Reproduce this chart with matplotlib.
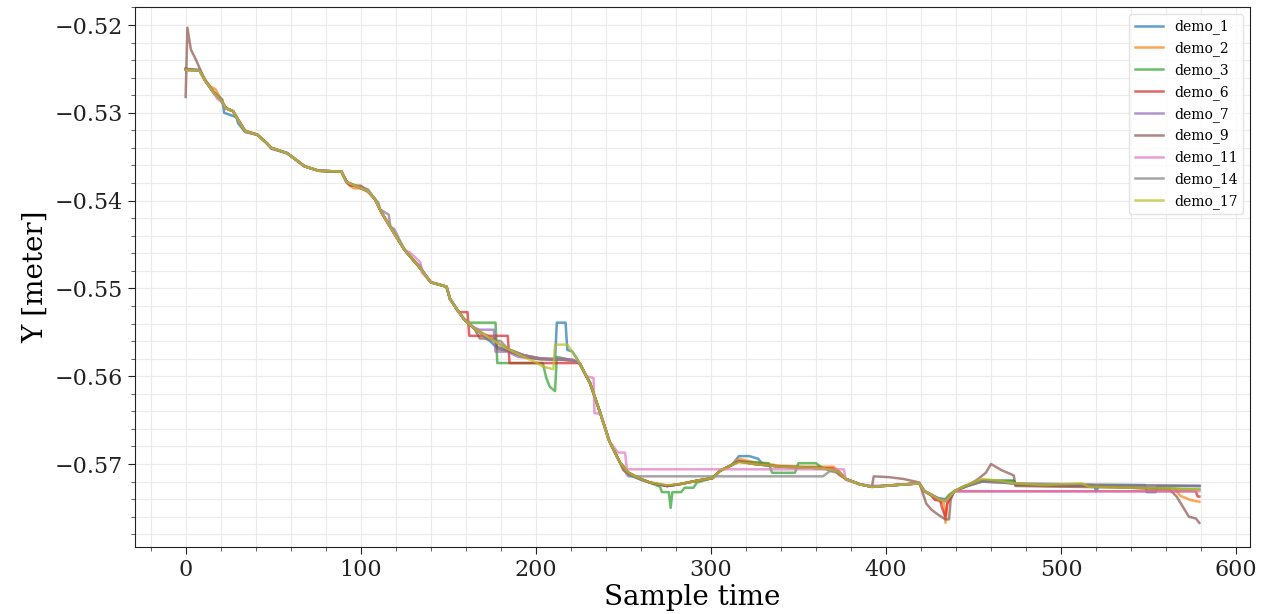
import matplotlib
matplotlib.use("Agg")
import matplotlib.pyplot as plt
from matplotlib.ticker import MultipleLocator

plt.rcParams['font.family'] = ['DejaVu Serif']

labels = ["demo_1", "demo_2", "demo_3", "demo_6", "demo_7", "demo_9", "demo_11", "demo_14", "demo_17"]

demo_1 = [(0,-0.5250),(8,-0.5251),(11,-0.5262),(16,-0.5276),(21,-0.5285),(22,-0.5300),(29,-0.5305),(30,-0.5312),(34,-0.5322),(41,-0.5325),(46,-0.5334),(49,-0.5341),(58,-0.5346),(62,-0.5352),(68,-0.5361),(76,-0.5366),(89,-0.5367),(92,-0.5379),(98,-0.5384),(104,-0.5389),(108,-0.5398),(112,-0.5414),(119,-0.5437),(125,-0.5456),(134,-0.5477),(140,-0.5493),(149,-0.5498),(151,-0.5512),(155,-0.5524),(159,-0.5535),(165,-0.5546),(170,-0.5553),(177,-0.5566),(184,-0.5570),(193,-0.5576),(203,-0.5580),(211,-0.5581),(212,-0.5539),(217,-0.5539),(218,-0.5570),(221,-0.5572),(225,-0.5585),(231,-0.5608),(237,-0.5643),(242,-0.5674),(248,-0.5698),(253,-0.5712),(260,-0.5718),(265,-0.5721),(275,-0.5725),(282,-0.5723),(292,-0.5719),(301,-0.5716),(305,-0.5708),(312,-0.5701),(316,-0.5691),(322,-0.5691),(327,-0.5694),(330,-0.5701),(340,-0.5703),(355,-0.5704),(365,-0.5705),(373,-0.5709),(377,-0.5717),(385,-0.5723),(392,-0.5726),(405,-0.5724),(419,-0.5722),(422,-0.5731),(426,-0.5735),(430,-0.5739),(434,-0.5740),(439,-0.5731),(445,-0.5725),(455,-0.5719),(473,-0.5719),(474,-0.5724),(519,-0.5724),(520,-0.5731),(522,-0.5724),(548,-0.5724),(549,-0.5732),(554,-0.5732),(555,-0.5725),(579,-0.5725)]

demo_2 = [(0,-0.5250),(8,-0.5252),(11,-0.5262),(14,-0.5270),(17,-0.5273),(20,-0.5284),(23,-0.5294),(27,-0.5298),(30,-0.5308),(34,-0.5320),(41,-0.5325),(46,-0.5334),(49,-0.5340),(58,-0.5346),(62,-0.5352),(68,-0.5361),(76,-0.5366),(89,-0.5367),(92,-0.5380),(96,-0.5386),(100,-0.5386),(104,-0.5390),(108,-0.5398),(112,-0.5414),(119,-0.5437),(125,-0.5456),(134,-0.5477),(140,-0.5493),(149,-0.5498),(151,-0.5512),(155,-0.5524),(159,-0.5535),(165,-0.5546),(172,-0.5553),(176,-0.5560),(184,-0.5569),(193,-0.5576),(203,-0.5580),(214,-0.5581),(221,-0.5582),(225,-0.5585),(231,-0.5608),(237,-0.5643),(242,-0.5674),(248,-0.5698),(253,-0.5710),(260,-0.5717),(265,-0.5721),(275,-0.5725),(282,-0.5723),(292,-0.5719),(301,-0.5716),(305,-0.5708),(312,-0.5701),(316,-0.5694),(325,-0.5698),(340,-0.5702),(355,-0.5703),(370,-0.5703),(373,-0.5708),(377,-0.5717),(385,-0.5723),(392,-0.5726),(405,-0.5724),(419,-0.5722),(422,-0.5731),(426,-0.5736),(430,-0.5742),(433,-0.5745),(434,-0.5767),(435,-0.5745),(439,-0.5731),(445,-0.5726),(455,-0.5718),(465,-0.5720),(474,-0.5723),(490,-0.5725),(510,-0.5725),(540,-0.5727),(565,-0.5728),(568,-0.5736),(574,-0.5741),(579,-0.5743)]

demo_3 = [(0,-0.5251),(8,-0.5252),(11,-0.5263),(16,-0.5277),(20,-0.5285),(23,-0.5295),(27,-0.5298),(30,-0.5308),(34,-0.5321),(41,-0.5325),(46,-0.5334),(49,-0.5340),(58,-0.5346),(62,-0.5352),(68,-0.5361),(76,-0.5366),(89,-0.5367),(92,-0.5379),(98,-0.5384),(104,-0.5389),(108,-0.5398),(112,-0.5414),(119,-0.5437),(125,-0.5456),(134,-0.5477),(140,-0.5493),(149,-0.5498),(151,-0.5512),(155,-0.5524),(159,-0.5535),(161,-0.5539),(177,-0.5539),(178,-0.5585),(204,-0.5585),(206,-0.5602),(208,-0.5612),(211,-0.5617),(212,-0.5578),(221,-0.5582),(225,-0.5585),(231,-0.5608),(237,-0.5643),(242,-0.5674),(248,-0.5698),(253,-0.5710),(260,-0.5717),(265,-0.5721),(271,-0.5726),(272,-0.5732),(276,-0.5732),(277,-0.5750),(278,-0.5732),(283,-0.5732),(285,-0.5727),(290,-0.5727),(292,-0.5721),(301,-0.5716),(305,-0.5708),(312,-0.5701),(316,-0.5697),(324,-0.5698),(333,-0.5699),(335,-0.5710),(348,-0.5710),(350,-0.5699),(360,-0.5699),(364,-0.5705),(373,-0.5709),(377,-0.5717),(385,-0.5723),(392,-0.5726),(405,-0.5724),(419,-0.5722),(422,-0.5731),(426,-0.5735),(430,-0.5740),(434,-0.5741),(436,-0.5735),(439,-0.5731),(445,-0.5725),(455,-0.5719),(473,-0.5719),(474,-0.5723),(490,-0.5724),(510,-0.5724),(540,-0.5727),(560,-0.5728),(579,-0.5729)]

demo_6 = [(0,-0.5250),(8,-0.5252),(11,-0.5263),(16,-0.5277),(20,-0.5285),(23,-0.5295),(27,-0.5298),(30,-0.5308),(34,-0.5321),(41,-0.5325),(46,-0.5334),(49,-0.5340),(58,-0.5346),(62,-0.5352),(68,-0.5361),(76,-0.5366),(89,-0.5367),(92,-0.5379),(94,-0.5383),(100,-0.5383),(104,-0.5389),(108,-0.5398),(112,-0.5414),(119,-0.5437),(125,-0.5456),(134,-0.5477),(140,-0.5493),(149,-0.5498),(151,-0.5512),(155,-0.5524),(156,-0.5527),(161,-0.5527),(162,-0.5554),(184,-0.5554),(185,-0.5585),(224,-0.5585),(225,-0.5586),(231,-0.5608),(237,-0.5643),(242,-0.5674),(248,-0.5698),(250,-0.5707),(253,-0.5711),(260,-0.5717),(265,-0.5721),(275,-0.5725),(282,-0.5723),(292,-0.5719),(301,-0.5716),(305,-0.5708),(312,-0.5701),(316,-0.5697),(325,-0.5700),(340,-0.5703),(355,-0.5704),(370,-0.5705),(373,-0.5712),(377,-0.5717),(385,-0.5723),(392,-0.5726),(405,-0.5724),(419,-0.5722),(422,-0.5731),(426,-0.5736),(428,-0.5741),(431,-0.5741),(432,-0.5750),(434,-0.5760),(435,-0.5745),(439,-0.5731),(577,-0.5731),(578,-0.5737),(579,-0.5737)]

demo_7 = [(0,-0.5251),(8,-0.5252),(11,-0.5263),(16,-0.5277),(20,-0.5285),(23,-0.5295),(27,-0.5298),(30,-0.5308),(34,-0.5321),(41,-0.5325),(46,-0.5334),(49,-0.5340),(58,-0.5346),(62,-0.5352),(68,-0.5361),(76,-0.5366),(89,-0.5367),(92,-0.5379),(98,-0.5384),(104,-0.5389),(108,-0.5398),(112,-0.5414),(119,-0.5437),(125,-0.5456),(131,-0.5470),(134,-0.5474),(136,-0.5482),(140,-0.5493),(149,-0.5498),(151,-0.5512),(155,-0.5524),(159,-0.5535),(165,-0.5545),(168,-0.5547),(176,-0.5547),(177,-0.5572),(184,-0.5572),(190,-0.5578),(203,-0.5580),(214,-0.5580),(221,-0.5581),(225,-0.5585),(231,-0.5608),(237,-0.5643),(242,-0.5674),(248,-0.5698),(253,-0.5710),(260,-0.5717),(265,-0.5721),(275,-0.5725),(282,-0.5723),(292,-0.5719),(301,-0.5716),(305,-0.5708),(312,-0.5701),(316,-0.5697),(325,-0.5700),(340,-0.5703),(355,-0.5704),(365,-0.5705),(373,-0.5709),(377,-0.5717),(385,-0.5723),(392,-0.5725),(405,-0.5724),(419,-0.5722),(422,-0.5731),(426,-0.5735),(430,-0.5739),(434,-0.5742),(439,-0.5731),(445,-0.5726),(455,-0.5720),(474,-0.5722),(490,-0.5724),(579,-0.5725)]

demo_9 = [(0,-0.5282),(1,-0.5203),(3,-0.5228),(6,-0.5240),(9,-0.5254),(11,-0.5263),(16,-0.5277),(20,-0.5285),(23,-0.5295),(27,-0.5298),(30,-0.5308),(34,-0.5321),(41,-0.5325),(46,-0.5334),(49,-0.5340),(58,-0.5346),(62,-0.5352),(68,-0.5361),(76,-0.5366),(89,-0.5367),(92,-0.5379),(98,-0.5384),(104,-0.5389),(108,-0.5398),(112,-0.5414),(119,-0.5437),(125,-0.5456),(134,-0.5477),(140,-0.5493),(149,-0.5498),(151,-0.5512),(155,-0.5524),(159,-0.5535),(165,-0.5546),(168,-0.5557),(177,-0.5557),(178,-0.5569),(184,-0.5571),(193,-0.5578),(203,-0.5581),(214,-0.5581),(221,-0.5582),(225,-0.5585),(231,-0.5608),(237,-0.5643),(242,-0.5674),(248,-0.5698),(253,-0.5710),(260,-0.5717),(265,-0.5721),(275,-0.5725),(282,-0.5723),(292,-0.5719),(301,-0.5716),(305,-0.5708),(312,-0.5701),(316,-0.5697),(325,-0.5700),(340,-0.5703),(355,-0.5704),(365,-0.5705),(373,-0.5709),(377,-0.5717),(385,-0.5723),(392,-0.5726),(393,-0.5714),(402,-0.5715),(410,-0.5717),(419,-0.5721),(421,-0.5733),(423,-0.5745),(426,-0.5752),(430,-0.5758),(434,-0.5763),(436,-0.5763),(437,-0.5740),(439,-0.5731),(445,-0.5726),(452,-0.5718),(457,-0.5710),(460,-0.5700),(466,-0.5707),(473,-0.5713),(474,-0.5725),(510,-0.5726),(540,-0.5727),(562,-0.5729),(566,-0.5737),(570,-0.5750),(573,-0.5760),(577,-0.5762),(579,-0.5767)]

demo_11 = [(0,-0.5251),(8,-0.5252),(11,-0.5263),(16,-0.5277),(18,-0.5284),(21,-0.5288),(23,-0.5295),(27,-0.5298),(30,-0.5308),(34,-0.5321),(41,-0.5325),(46,-0.5334),(49,-0.5340),(58,-0.5346),(62,-0.5352),(68,-0.5361),(76,-0.5366),(89,-0.5367),(92,-0.5379),(98,-0.5384),(104,-0.5389),(108,-0.5398),(112,-0.5414),(119,-0.5437),(125,-0.5456),(128,-0.5459),(134,-0.5470),(135,-0.5482),(140,-0.5493),(149,-0.5498),(151,-0.5512),(155,-0.5524),(159,-0.5535),(165,-0.5546),(169,-0.5551),(174,-0.5557),(184,-0.5569),(193,-0.5576),(203,-0.5580),(214,-0.5581),(221,-0.5582),(225,-0.5585),(229,-0.5600),(233,-0.5602),(233.5,-0.5642),(237,-0.5643),(242,-0.5674),(247,-0.5687),(251,-0.5687),(252,-0.5706),(376,-0.5706),(377,-0.5718),(385,-0.5723),(392,-0.5726),(405,-0.5724),(419,-0.5722),(422,-0.5731),(426,-0.5735),(430,-0.5740),(434,-0.5743),(439,-0.5731),(579,-0.5731)]

demo_14 = [(0,-0.5251),(8,-0.5252),(11,-0.5263),(16,-0.5277),(20,-0.5285),(23,-0.5295),(27,-0.5298),(30,-0.5308),(34,-0.5321),(41,-0.5325),(46,-0.5334),(49,-0.5340),(58,-0.5346),(62,-0.5352),(68,-0.5361),(76,-0.5366),(89,-0.5367),(92,-0.5379),(94,-0.5381),(104,-0.5387),(108,-0.5398),(110,-0.5402),(111,-0.5410),(116,-0.5416),(117,-0.5430),(119,-0.5432),(125,-0.5456),(134,-0.5477),(140,-0.5493),(149,-0.5498),(151,-0.5512),(155,-0.5524),(159,-0.5535),(165,-0.5546),(169,-0.5551),(172,-0.5558),(180,-0.5560),(184,-0.5569),(193,-0.5576),(203,-0.5580),(214,-0.5581),(221,-0.5582),(225,-0.5585),(231,-0.5608),(237,-0.5643),(242,-0.5674),(248,-0.5698),(252,-0.5712),(253,-0.5714),(364,-0.5714),(368,-0.5708),(373,-0.5710),(377,-0.5717),(385,-0.5723),(392,-0.5726),(405,-0.5724),(419,-0.5722),(422,-0.5731),(426,-0.5735),(430,-0.5740),(434,-0.5742),(439,-0.5731),(445,-0.5726),(455,-0.5720),(474,-0.5722),(579,-0.5725)]

demo_17 = [(0,-0.5251),(8,-0.5252),(11,-0.5263),(16,-0.5277),(20,-0.5285),(23,-0.5295),(27,-0.5298),(30,-0.5308),(34,-0.5321),(41,-0.5325),(46,-0.5334),(49,-0.5340),(58,-0.5346),(62,-0.5352),(68,-0.5361),(76,-0.5366),(89,-0.5367),(92,-0.5379),(98,-0.5384),(104,-0.5389),(108,-0.5398),(112,-0.5414),(119,-0.5437),(125,-0.5456),(134,-0.5477),(140,-0.5493),(149,-0.5498),(151,-0.5512),(155,-0.5524),(159,-0.5535),(165,-0.5546),(169,-0.5551),(174,-0.5557),(184,-0.5569),(193,-0.5578),(200,-0.5584),(204,-0.5589),(210,-0.5592),(211,-0.5564),(218,-0.5564),(220,-0.5570),(224,-0.5582),(225,-0.5585),(231,-0.5608),(237,-0.5643),(242,-0.5674),(248,-0.5698),(253,-0.5710),(260,-0.5717),(265,-0.5721),(275,-0.5724),(282,-0.5723),(292,-0.5719),(301,-0.5716),(305,-0.5708),(312,-0.5701),(316,-0.5698),(325,-0.5700),(340,-0.5703),(355,-0.5704),(365,-0.5705),(373,-0.5709),(377,-0.5717),(385,-0.5723),(392,-0.5726),(405,-0.5724),(419,-0.5722),(422,-0.5731),(426,-0.5735),(430,-0.5740),(434,-0.5742),(439,-0.5731),(445,-0.5725),(455,-0.5717),(465,-0.5719),(474,-0.5722),(490,-0.5724),(500,-0.5723),(512,-0.5722),(516,-0.5726),(540,-0.5727),(560,-0.5728),(579,-0.5729)]

series = [demo_1, demo_2, demo_3, demo_6, demo_7, demo_9, demo_11, demo_14, demo_17]

fig = plt.figure(figsize=(12.66, 6.14), dpi=100)
ax = fig.add_axes([0.1066, 0.1091, 0.8808, 0.8795])

for lab, pts in zip(labels, series):
    t = [p[0] for p in pts]
    y = [p[1] for p in pts]
    ax.plot(t, y, label=lab, linewidth=1.8, alpha=0.7)

ax.xaxis.set_major_locator(MultipleLocator(100))
ax.xaxis.set_minor_locator(MultipleLocator(20))
ax.yaxis.set_major_locator(MultipleLocator(0.01))
ax.yaxis.set_minor_locator(MultipleLocator(0.002))
ax.grid(which='both', color='#ebebeb', linewidth=0.8)
ax.set_axisbelow(True)
ax.tick_params(which='major', direction='out', length=5, labelsize=16, colors='#222222')
ax.tick_params(which='minor', direction='out', length=3, colors='#444444')
for s in ax.spines.values():
    s.set_color('#222222')

ax.set_xlim(-28.95, 607.95)
ax.set_ylim(-0.57945, -0.51795)
ax.set_xlabel("Sample time", fontsize=20, labelpad=2)
ax.set_ylabel("Y [meter]", fontsize=20)

leg = ax.legend(loc='upper right', fontsize=10, framealpha=0.8, edgecolor='#dddddd', fancybox=True)

fig.savefig("out.png", dpi=100)
